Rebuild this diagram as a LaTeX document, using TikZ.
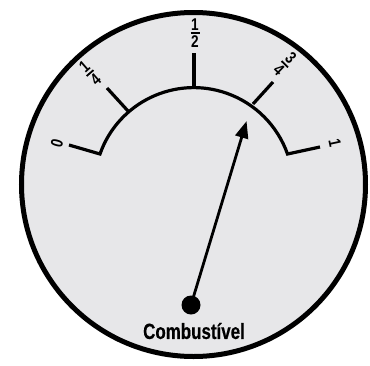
\documentclass[tikz,border=0pt]{standalone}
\usepackage{fontspec}
\newfontfamily\condfont[FakeStretch=0.8]{Liberation Sans}
\newfontfamily\titlefont[FakeStretch=0.77,FakeBold=0.4]{Liberation Sans}
\usetikzlibrary{arrows.meta}
\definecolor{dial}{RGB}{231,231,233}
\newcommand\gfrac[2]{\vbox{\offinterlineskip\halign{\hfil##\hfil\cr #1\cr\noalign{\kern1.8pt}\rule{9pt}{1.8pt}\cr\noalign{\kern1.6pt}#2\cr}}}
\begin{document}
\begin{tikzpicture}[x=1pt,y=1pt,
  lbl/.style={font=\condfont\bfseries\fontsize{17}{17}\selectfont, inner sep=0pt},
  tick/.style={line width=3.2pt, line join=miter},
  needle/.style={line width=2.8pt, -{Triangle[length=17pt,width=13pt]}, shorten >=-2pt}]
\useasboundingbox (0,0) rectangle (370,-365);
\fill[white] (0,0) rectangle (370,-365);
% dial face
\draw[line width=5pt, fill=dial] (193.5,-184.5) circle (172);
% scale arc with end stubs
\coordinate (z0) at (69,-145);
\coordinate (z1) at (320,-147);
\draw[tick] (z0) -- (100,-154) arc[start angle=160.6, end angle=19.4, radius=99.4] -- (z1);
% ticks
\draw[tick] (128,-111) -- (107,-88);
\draw[tick] (194,-88) -- (194,-53);
\draw[tick] (253,-104) -- (273,-82);
% labels
\node[lbl, rotate=75] (l0) at (57,-143) {0};
\node[lbl, rotate=41] (l14) at (90,-73) {\gfrac{1}{4}};
\node[lbl] (l12) at (195,-33) {\gfrac{1}{2}};
\node[lbl, rotate=-44] (l34) at (285,-64) {\gfrac{3}{4}};
\node[lbl, rotate=-78] (l1) at (335,-143) {1};
% needle
\node[circle, fill=black, minimum size=19pt, inner sep=0pt] (pivot) at (191,-305) {};
\coordinate (tip) at (246,-123);
\draw[needle] (pivot.center) -- (tip);
\node[font=\titlefont\bfseries\fontsize{22}{22}\selectfont, inner sep=0pt] (title) at (194,-331) {Combustível};
\end{tikzpicture}
\end{document}
